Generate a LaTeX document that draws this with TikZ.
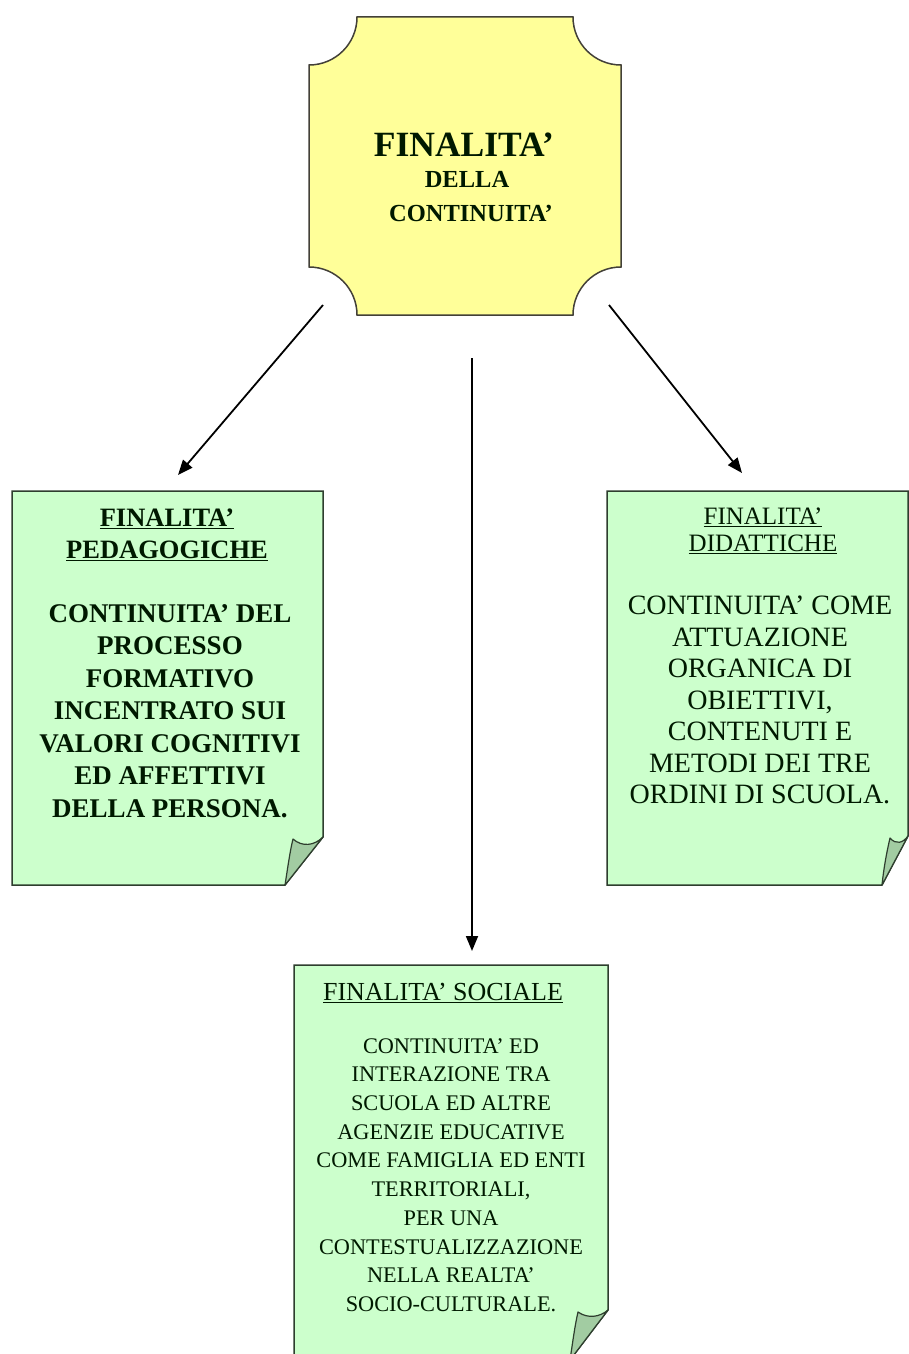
\documentclass[tikz,border=0pt]{standalone}
\usepackage{fontspec}
\setmainfont{Liberation Serif}
\usetikzlibrary{arrows.meta}
\definecolor{plaqueyellow}{HTML}{FFFF99}
\definecolor{papergreen}{HTML}{CCFFCC}
\definecolor{flapgreen}{HTML}{A2CCA2}
\definecolor{edgegreen}{HTML}{2E3E2E}
\begin{document}
\begin{tikzpicture}[x=1pt,y=-1pt,
  plaque/.style={fill=plaqueyellow, draw=black!85!yellow, line width=1.5pt},
  paper/.style={fill=papergreen, draw=edgegreen, line width=1.5pt},
  flap/.style={fill=flapgreen, draw=edgegreen, line width=1.2pt, line join=round},
  conn/.style={line width=1.8pt, -{Triangle[length=15pt,width=12pt]}},
  txt/.style={align=center, inner sep=0pt, text=black!90!green}]
\useasboundingbox (0,0) rectangle (909,1354);
\clip (0,0) rectangle (909,1354);

% central plaque
\draw[plaque] (357,17) -- (573,17) arc[start angle=180,end angle=90,radius=48]
  -- (621,267) arc[start angle=270,end angle=180,radius=48]
  -- (357,315) arc[start angle=0,end angle=-90,radius=48]
  -- (309,65) arc[start angle=90,end angle=0,radius=48] -- cycle;
\node[txt, font=\bfseries\fontsize{35.5}{34}\selectfont] (tTitle) at (464,145) {FINALITA’};
\node[txt, font=\bfseries\fontsize{24.5}{34}\selectfont] (tDella) at (467,179) {DELLA};
\node[txt, font=\bfseries\fontsize{24.5}{34}\selectfont] (tCont) at (471,213) {CONTINUITA’};

% left paper
\draw[paper] (12,491) -- (323,491) -- (323,837) -- (285,885) -- (12,885) -- cycle;
\draw[flap] (285,885) .. controls (288,866) and (290,851) .. (293,839)
  .. controls (302,847) and (314,846) .. (323,837) -- cycle;
\node[txt, font=\bfseries\fontsize{26.5}{32}\selectfont] (lHead) at (167,535)
  {\underline{FINALITA’}\\\underline{PEDAGOGICHE}};
\node[txt, font=\bfseries\fontsize{27}{32.5}\selectfont] (lBody) at (170,711)
  {CONTINUITA’ DEL\\PROCESSO\\FORMATIVO\\INCENTRATO SUI\\VALORI COGNITIVI\\ED AFFETTIVI\\DELLA PERSONA.};

% right paper
\draw[paper] (607,491) -- (908,491) -- (908,836) -- (882,885) -- (607,885) -- cycle;
\draw[flap] (882,885) .. controls (884,866) and (887,851) .. (890,838)
  .. controls (896,845) and (903,843) .. (908,836) -- cycle;
\node[txt, font=\fontsize{25}{27}\selectfont] (rHead) at (763,531)
  {\underline{FINALITA’}\\\underline{DIDATTICHE}};
\node[txt, font=\fontsize{28}{31.5}\selectfont] (rBody) at (760,700)
  {CONTINUITA’ COME\\ATTUAZIONE\\ORGANICA DI\\OBIETTIVI,\\CONTENUTI E\\METODI DEI TRE\\ORDINI DI SCUOLA.};

% bottom paper
\draw[paper] (294,965) -- (608,965) -- (608,1310) -- (570,1360) -- (294,1360) -- cycle;
\draw[flap] (570,1360) .. controls (573,1340) and (575,1325) .. (578,1312)
  .. controls (588,1319) and (600,1317) .. (608,1310) -- cycle;
\node[txt, font=\fontsize{26}{30}\selectfont] (bHead) at (443,993)
  {\underline{FINALITA’ SOCIALE}};
\node[txt, font=\fontsize{22.3}{28.7}\selectfont] (bBody) at (451,1175)
  {CONTINUITA’ ED\\INTERAZIONE TRA\\SCUOLA ED ALTRE\\AGENZIE EDUCATIVE\\COME FAMIGLIA ED ENTI\\TERRITORIALI,\\PER UNA\\CONTESTUALIZZAZIONE\\NELLA REALTA’\\SOCIO-CULTURALE.};

% connectors
\coordinate (aLs) at (323,305);
\coordinate (aLe) at (178,475);
\coordinate (aMs) at (472,358);
\coordinate (aMe) at (472,951);
\coordinate (aRs) at (609,305);
\coordinate (aRe) at (742,473);
\draw[conn] (aLs) -- (aLe);
\draw[conn] (aMs) -- (aMe);
\draw[conn] (aRs) -- (aRe);
\end{tikzpicture}
\end{document}
